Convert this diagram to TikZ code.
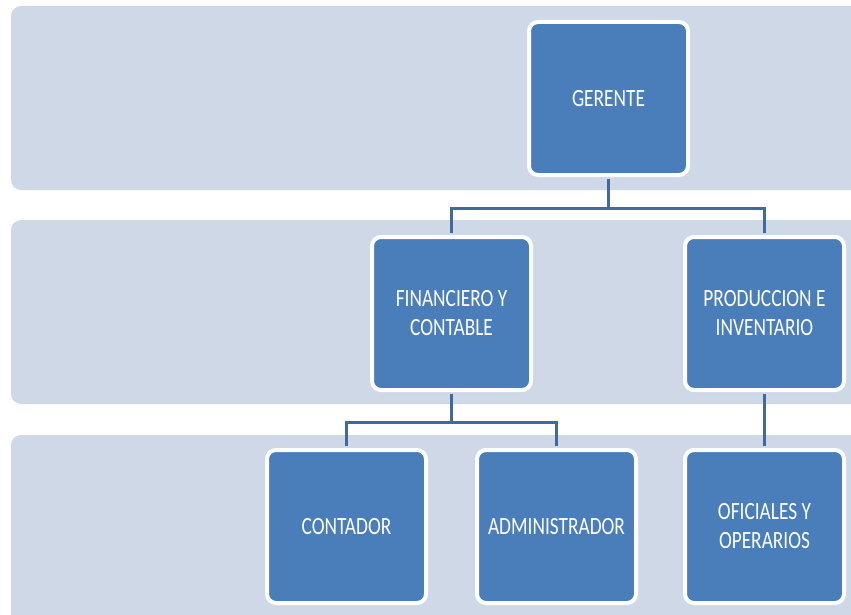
\documentclass[tikz,border=0pt]{standalone}
\usepackage{xcolor}
\usepackage{fontspec}
\usepackage{tikz}
\usetikzlibrary{calc}
\newfontfamily\orgfont{Carlito}[FakeStretch=0.78]
\definecolor{bandgray}{HTML}{CFD8E6}
\definecolor{boxblue}{HTML}{4A7EBB}
\definecolor{linkblue}{HTML}{41699E}
\tikzset{ org_box/.style = {rectangle, rounded corners=9pt, fill=boxblue, draw=white, line width=4pt, minimum width=159pt, minimum height=153pt, align=center, text=white, font=\orgfont\fontsize{24.8}{29}\selectfont} }
\tikzset{ band/.style = {fill=bandgray, rounded corners=10pt} }
\tikzset{ link/.style = {draw=linkblue, line width=3pt, shorten <=2pt, shorten >=2pt} }

\begin{document}
\begin{tikzpicture}[x=1pt,y=-1pt]
    \useasboundingbox (0,0) rectangle (851,615);
    \clip (0,0) rectangle (851,615);
    \fill[band] (11,6) rectangle (880,190);
    \fill[band] (11,220) rectangle (880,404);
    \fill[band] (11,435) rectangle (880,625);
    \node[org_box] (ger) at (608.5, 98.5) {GERENTE};
    \node[org_box] (fin) at (451.5, 313.5) {FINANCIERO Y\\CONTABLE};
    \node[org_box] (pro) at (764.5, 313.5) {PRODUCCION E\\INVENTARIO};
    \node[org_box] (cont) at (346.5, 526.5) {CONTADOR};
    \node[org_box] (adm) at (556.5, 526.5) {ADMINISTRADOR};
    \node[org_box] (ofi) at (764.5, 526.5) {OFICIALES Y\\OPERARIOS};
    \draw[link] (ger.south) -- ++(0,31) -| (fin.north);
    \draw[link] (ger.south) -- ++(0,31) -| (pro.north);
    \draw[link] (fin.south) -- ++(0,30) -| (cont.north);
    \draw[link] (fin.south) -- ++(0,30) -| (adm.north);
    \draw[link] (pro.south) -- (ofi.north);
\end{tikzpicture}
\end{document}
